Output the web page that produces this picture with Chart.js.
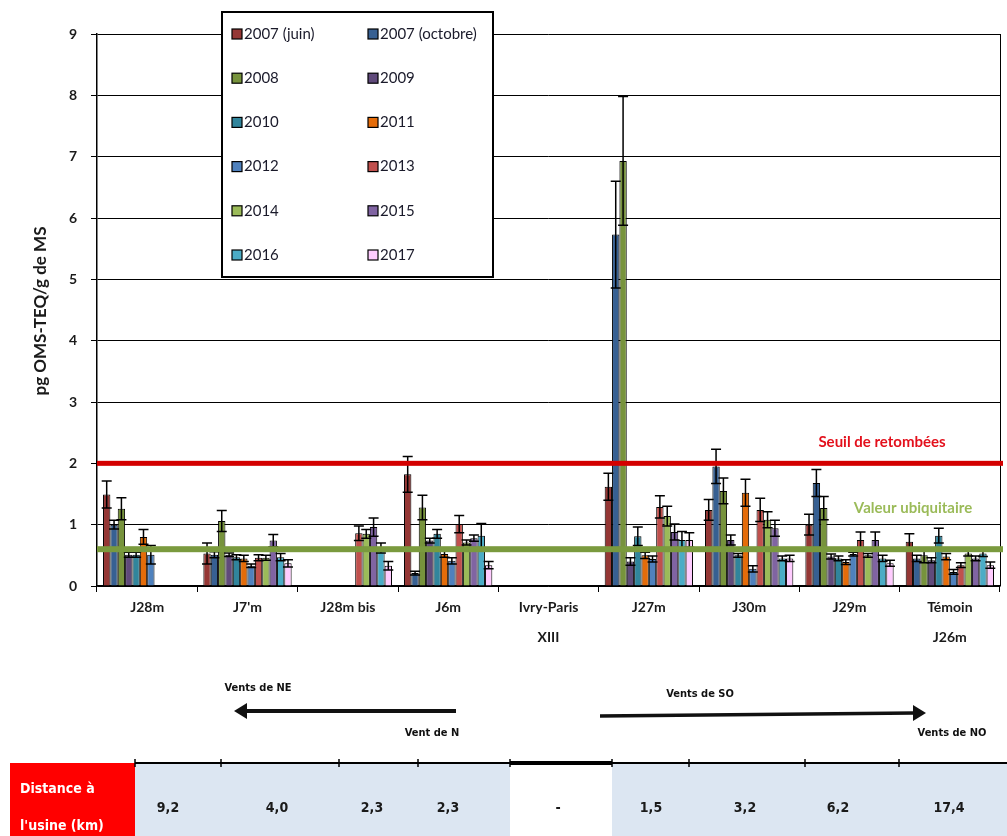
<!DOCTYPE html>
<html>
<head>
<meta charset="utf-8">
<script src="https://cdn.jsdelivr.net/npm/chart.js@4.4.0/dist/chart.umd.min.js"></script>
<style>
  body { margin:0; background:#fff; }
  #wrap { width:1007px; height:836px; }
</style>
</head>
<body>
<div id="wrap"><canvas id="graf" width="1007" height="836"></canvas></div>
<script>
// stations (categories)
const stations = ['J28m', "J7'm", 'J28m bis', 'J6m', ['Ivry-Paris', 'XIII'], 'J27m', 'J30m', 'J29m', ['Témoin', 'J26m']]
const campagnes = ['2007 (juin)', '2007 (octobre)', '2008', '2009', '2010', '2011', '2012', '2013', '2014', '2015', '2016', '2017']
const couleurs = ['#953735', '#376092', '#77933C', '#604A7B', '#31859C', '#E46C0A', '#4F81BD', '#C0504D', '#9BBB59', '#8064A2', '#4BACC6', '#FFCCFF']

// valeurs pg OMS-TEQ/g de MS
const v2007juin = [1.49, 0.53, null, 1.82, null, 1.62, 1.24, 1.00, 0.72]
const v2007oct  = [1.00, 0.51, null, 0.21, null, 5.73, 1.95, 1.68, 0.45]
const v2008     = [1.26, 1.06, null, 1.28, null, 6.93, 1.55, 1.27, 0.50]
const v2009     = [0.51, 0.51, null, 0.74, null, 0.40, 0.75, 0.48, 0.42]
const v2010     = [0.51, 0.47, null, 0.85, null, 0.81, 0.50, 0.45, 0.82]
const v2011     = [0.80, 0.45, null, 0.52, null, 0.50, 1.52, 0.39, 0.48]
const v2012     = [0.51, 0.33, null, 0.41, null, 0.44, 0.28, 0.52, 0.23]
const v2013     = [null, 0.46, 0.86, 1.01, null, 1.29, 1.24, 0.75, 0.34]
const v2014     = [null, 0.46, 0.85, 0.71, null, 1.14, 1.08, 0.50, 0.53]
const v2015     = [null, 0.74, 0.96, 0.78, null, 0.88, 0.94, 0.75, 0.45]
const v2016     = [null, 0.47, 0.62, 0.82, null, 0.75, 0.45, 0.45, 0.53]
const v2017     = [null, 0.37, 0.33, 0.34, null, 0.75, 0.45, 0.37, 0.34]

// incertitudes (+/-)
const e2007juin = [0.22, 0.17, null, 0.29, null, 0.22, 0.17, 0.17, 0.13]
const e2007oct  = [0.07, 0.05, null, 0.03, null, 0.87, 0.28, 0.22, 0.05]
const e2008     = [0.18, 0.17, null, 0.20, null, 1.05, 0.21, 0.19, 0.12]
const e2009     = [0.04, 0.03, null, 0.04, null, 0.06, 0.08, 0.04, 0.04]
const e2010     = [0.04, 0.04, null, 0.07, null, 0.15, 0.03, 0.04, 0.12]
const e2011     = [0.12, 0.05, null, 0.05, null, 0.05, 0.22, 0.04, 0.05]
const e2012     = [0.15, 0.03, null, 0.05, null, 0.05, 0.05, 0.03, 0.04]
const e2013     = [null, 0.05, 0.12, 0.14, null, 0.18, 0.19, 0.13, 0.04]
const e2014     = [null, 0.04, 0.07, 0.04, null, 0.16, 0.13, 0.03, 0.04]
const e2015     = [null, 0.10, 0.15, 0.05, null, 0.13, 0.13, 0.13, 0.04]
const e2016     = [null, 0.06, 0.08, 0.20, null, 0.14, 0.04, 0.05, 0.05]
const e2017     = [null, 0.06, 0.07, 0.06, null, 0.12, 0.05, 0.05, 0.05]

const valeurs = [v2007juin, v2007oct, v2008, v2009, v2010, v2011, v2012, v2013, v2014, v2015, v2016, v2017]
const erreurs = [e2007juin, e2007oct, e2008, e2009, e2010, e2011, e2012, e2013, e2014, e2015, e2016, e2017]

const seuilRetombees = 2
const valeurUbiquitaire = 0.6
const distances = ['9,2', '4,0', '2,3', '2,3', '-', '1,5', '3,2', '6,2', '17,4']

const police = 'Lato, "Open Sans", sans-serif'
const policeEtroite = '"Liberation Sans Narrow", "DejaVu Sans Condensed", Lato, sans-serif'

const decor = {
    id: 'decor',
    afterDatasetsDraw(chart) {
        const {ctx, chartArea: a, scales: {y}} = chart
        ctx.save()
        // barres d'erreur
        ctx.strokeStyle = '#000'
        ctx.lineWidth = 1.5
        chart.data.datasets.forEach((ds, i) => {
            chart.getDatasetMeta(i).data.forEach((bar, j) => {
                const v = ds.data[j], e = erreurs[i][j]
                if (v == null || e == null) return
                const yh = y.getPixelForValue(v + e), yb = y.getPixelForValue(v - e)
                ctx.beginPath()
                ctx.moveTo(bar.x, yh); ctx.lineTo(bar.x, yb)
                ctx.moveTo(bar.x - 5, yh); ctx.lineTo(bar.x + 5, yh)
                ctx.moveTo(bar.x - 5, yb); ctx.lineTo(bar.x + 5, yb)
                ctx.stroke()
            })
        })
        // bord droit
        ctx.lineWidth = 1
        ctx.beginPath(); ctx.moveTo(a.right + 0.5, a.top); ctx.lineTo(a.right + 0.5, a.bottom); ctx.stroke()

        // seuils
        const ys = y.getPixelForValue(seuilRetombees)
        ctx.fillStyle = '#D40000'
        ctx.fillRect(a.left, ys - 2.5, a.right - a.left + 3, 5)
        const yu = y.getPixelForValue(valeurUbiquitaire)
        ctx.fillStyle = '#7A9A3E'
        ctx.fillRect(a.left, yu - 3, a.right - a.left + 3, 6)

        ctx.font = 'bold 15px ' + police
        ctx.textAlign = 'center'
        ctx.textBaseline = 'middle'
        ctx.fillStyle = '#E3101C'
        ctx.fillText('Seuil de retombées', 882, 442)
        ctx.fillStyle = '#9BBB59'
        ctx.fillText('Valeur ubiquitaire', 913, 508)
        ctx.restore()
    },
    afterDraw(chart) {
        const {ctx} = chart
        ctx.save()
        // titre de l'axe
        ctx.translate(41, 311)
        ctx.rotate(-Math.PI / 2)
        ctx.font = 'bold 17px ' + police
        ctx.fillStyle = '#1a1a1a'
        ctx.textAlign = 'center'
        ctx.textBaseline = 'middle'
        ctx.fillText('pg OMS-TEQ/g de MS', 0, 0)
        ctx.setTransform(1, 0, 0, 1, 0, 0)

        // légende
        ctx.fillStyle = '#fff'
        ctx.fillRect(222, 12, 271, 265)
        ctx.strokeStyle = '#000'
        ctx.lineWidth = 2
        ctx.strokeRect(222, 12, 271, 265)
        ctx.font = '15px ' + police
        ctx.textAlign = 'left'
        chart.data.datasets.forEach((ds, i) => {
            const col = i % 2, lig = Math.floor(i / 2)
            const x = col ? 368 : 232, yy = 34 + lig * 44.2
            ctx.fillStyle = ds.backgroundColor
            ctx.fillRect(x, yy - 5, 10, 10)
            ctx.lineWidth = 1.2
            ctx.strokeRect(x, yy - 5, 10, 10)
            ctx.fillStyle = '#1a1a2a'
            ctx.fillText(ds.label, x + 12, yy)
        })

        // vents
        ctx.font = 'bold 11px ' + policeEtroite
        ctx.fillStyle = '#111'
        ctx.textAlign = 'center'
        ctx.fillText('Vents de NE', 258, 688)
        ctx.fillText('Vent de N', 432, 733)
        ctx.fillText('Vents de SO', 700, 694)
        ctx.fillText('Vents de NO', 952, 733)
        ctx.strokeStyle = '#111'
        ctx.fillStyle = '#111'
        ctx.lineWidth = 4
        ctx.beginPath(); ctx.moveTo(456, 711); ctx.lineTo(244, 711); ctx.stroke()
        ctx.beginPath(); ctx.moveTo(234, 711); ctx.lineTo(247, 703); ctx.lineTo(247, 719); ctx.closePath(); ctx.fill()
        ctx.lineWidth = 3.5
        ctx.beginPath(); ctx.moveTo(600, 716); ctx.lineTo(914, 713); ctx.stroke()
        ctx.beginPath(); ctx.moveTo(926, 713); ctx.lineTo(913, 705); ctx.lineTo(913, 721); ctx.closePath(); ctx.fill()

        // tableau des distances
        ctx.fillStyle = '#FF0000'
        ctx.fillRect(10, 763, 125, 73)
        ctx.fillStyle = '#DCE6F2'
        ctx.fillRect(135, 763, 375, 73)
        ctx.fillRect(612, 763, 395, 73)
        ctx.strokeStyle = '#000'
        ctx.lineWidth = 2
        ctx.beginPath(); ctx.moveTo(135, 763); ctx.lineTo(1007, 763); ctx.stroke()
        ctx.lineWidth = 4
        ctx.beginPath(); ctx.moveTo(510, 763); ctx.lineTo(612, 763); ctx.stroke()
        ctx.lineWidth = 1.5
        ;[135, 221, 339, 418, 510, 612, 689, 805, 899].forEach(x => {
            ctx.beginPath(); ctx.moveTo(x, 759); ctx.lineTo(x, 767); ctx.stroke()
        })
        ctx.font = 'bold 14px ' + policeEtroite
        ctx.fillStyle = '#fff'
        ctx.textAlign = 'left'
        ctx.fillText('Distance à', 20, 789)
        ctx.fillText("l'usine (km)", 20, 826)
        ctx.fillStyle = '#1a1a1a'
        ctx.textAlign = 'center'
        const px = [168, 277, 372, 448, 558, 651, 745, 838, 949]
        distances.forEach((d, i) => ctx.fillText(d, px[i], 808))
        ctx.restore()
    }
}

const grafico = new Chart(document.getElementById('graf'), {
    type: 'bar',
    data: {
        labels: stations,
        datasets: valeurs.map((serie, i) => ({
            label: campagnes[i],
            data: serie,
            backgroundColor: couleurs[i],
            borderColor: '#000',
            borderWidth: 1,
            categoryPercentage: 0.88,
            barPercentage: 1
        }))
    },
    options: {
        responsive: false,
        animation: false,
        layout: {padding: {top: 34, right: 7, bottom: 185, left: 0}},
        plugins: {
            legend: {display: false},
            tooltip: {enabled: false}
        },
        scales: {
            x: {
                grid: {drawOnChartArea: false, color: '#000', tickLength: 6, offset: true},
                border: {color: '#000', width: 1.5},
                ticks: {
                    color: '#1a1a1a',
                    font: {family: police, size: 14, weight: 'bold', lineHeight: 2.15},
                    padding: 0,
                    maxRotation: 0,
                    autoSkip: false
                },
                afterFit: s => { s.height = 65 }
            },
            y: {
                min: 0,
                max: 9,
                ticks: {
                    stepSize: 1,
                    color: '#1a1a1a',
                    font: {family: police, size: 14, weight: 'bold'},
                    padding: 14
                },
                grid: {color: '#000', tickLength: 6},
                border: {color: '#000', width: 1.5},
                afterFit: s => { s.width = 97 }
            }
        }
    },
    plugins: [decor]
})
</script>
</body>
</html>
